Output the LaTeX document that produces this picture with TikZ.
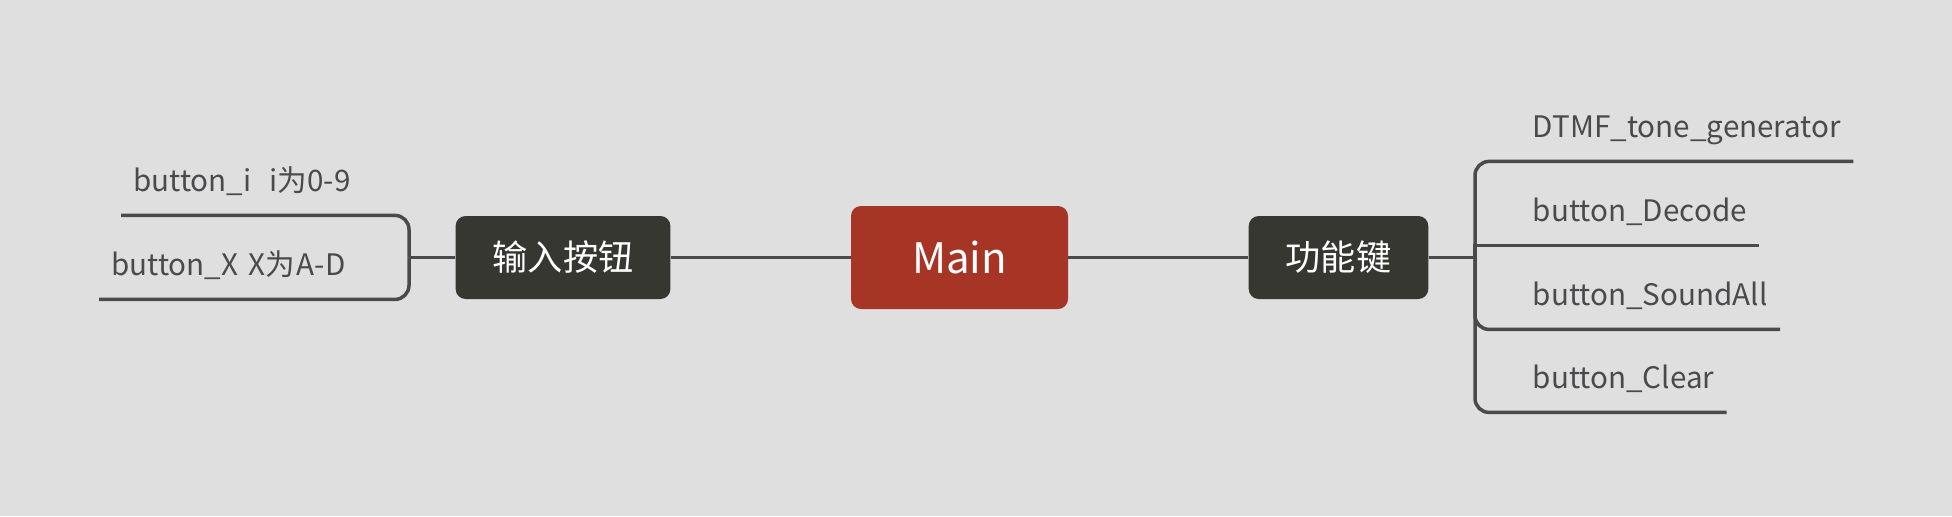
\documentclass[tikz,border=0pt]{standalone}
\usepackage{fontspec}
\setmainfont{Noto Sans CJK SC}
\usepackage{tikz}
\definecolor{bgcol}{RGB}{223,223,223}
\definecolor{maincol}{RGB}{166,53,38}
\definecolor{topiccol}{RGB}{55,55,50}
\definecolor{linecol}{RGB}{74,74,77}

\begin{document}
\begin{tikzpicture}[
  x=0.5pt, y=-0.5pt,
  root/.style={fill=maincol, text=white, rounded corners=5pt, inner sep=0pt,
               minimum width=108.5pt, minimum height=51.5pt,
               font=\fontsize{21}{24}\selectfont},
  topic/.style={fill=topiccol, text=white, rounded corners=5pt, inner xsep=18.5pt,
                inner ysep=0pt, minimum height=41.5pt, font=\fontsize{17.6}{20}\selectfont},
  leaf/.style={anchor=base west, inner xsep=6pt, inner ysep=0pt, text depth=12pt,
               text=linecol, font=\fontsize{14.8}{17}\selectfont},
  link/.style={draw=linecol, line width=1.75pt}
]
\fill[bgcol] (0,0) rectangle (1952,516);
\useasboundingbox (0,0) rectangle (1952,516);

\node[root] (main) at (959.5,257.5) {Main};
\node[topic] (in) at (563,257.5) {输入按钮};
\node[topic] (fn) at (1338.5,257.5) {功能键};

% left branch
\node[leaf] (l1) at (121,191) {button\_i\hspace{9pt}i为0-9};
\node[leaf] (l2) at (99,275) {button\_X\hspace{5pt}X为\hspace{1pt}A-D};

% right branch
\node[leaf] (r1) at (1520.5,137) {DTMF\_tone\_generator};
\node[leaf] (r2) at (1520.5,221) {button\_Decode};
\node[leaf] (r3) at (1520.5,305) {button\_SoundAll};
\node[leaf] (r4) at (1520.5,388) {button\_Clear};

\coordinate (lhub) at (409,257.5);
\coordinate (rhub) at (1475,257.5);

\draw[link] (in) -- (main);
\draw[link] (main) -- (fn);
\draw[link] (in) -- (lhub);
\draw[link] (fn) -- (rhub);

\draw[link, rounded corners=7pt] (lhub) |- (l1.south west);
\draw[link, rounded corners=7pt] (lhub) |- (l2.south west);
\draw[link, rounded corners=7pt] (rhub) |- (r1.south east);
\draw[link] (rhub) |- (r2.south east);
\draw[link, rounded corners=7pt] (rhub) |- (r3.south east);
\draw[link, rounded corners=7pt] (rhub) |- (r4.south east);
\end{tikzpicture}
\end{document}
